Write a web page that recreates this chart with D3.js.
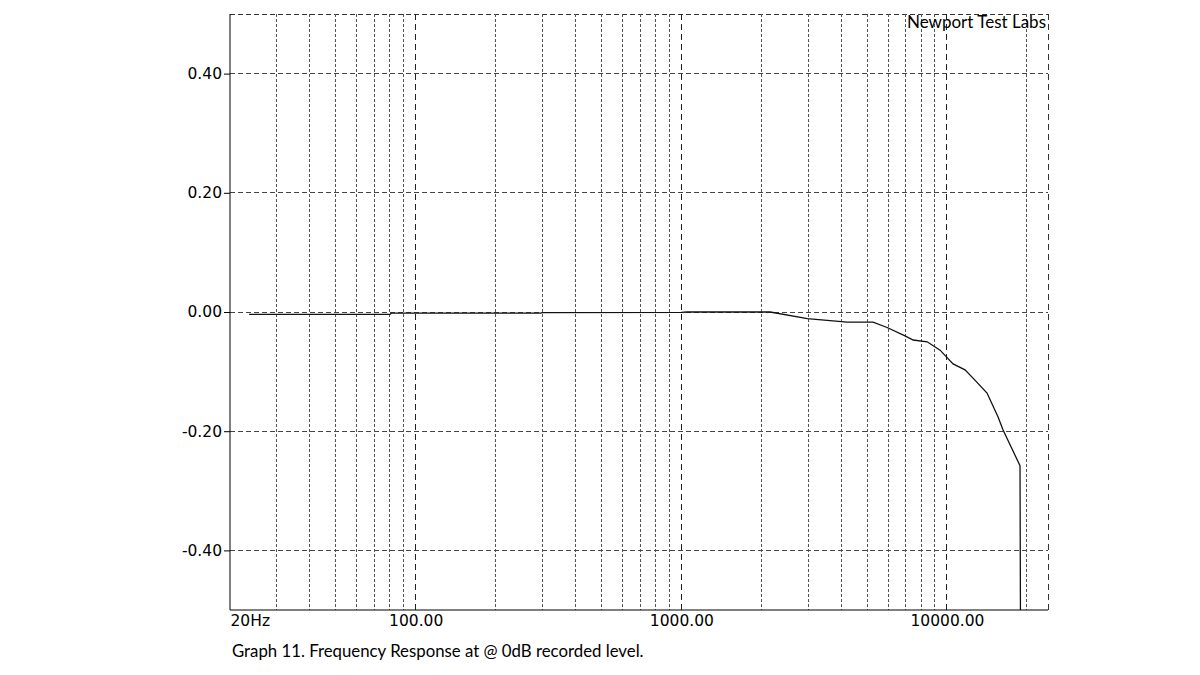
<!DOCTYPE html>
<html><head><meta charset="utf-8">
<script src="https://cdn.jsdelivr.net/npm/d3@7"></script>
<style>body{margin:0;background:#fff}svg{display:block}</style>
</head><body>
<svg id="chart" width="1200" height="675"></svg>
<script>
// ---- data ----
const freqs = [23.6, 80, 81, 295, 300, 1000, 1050, 2160, 2980, 4210, 5270, 5950, 6950, 7460, 8420, 9418, 10540, 11690, 12530, 14150, 15570, 16260, 18830, 18900];
const levels = [-0.004, -0.004, -0.002, -0.002, -0.001, -0.0005, 0, 0, -0.011, -0.017, -0.017, -0.026, -0.040, -0.047, -0.050, -0.064, -0.087, -0.097, -0.111, -0.136, -0.176, -0.198, -0.258, -0.5];
const yTicks = [0.4, 0.2, 0, -0.2, -0.4];
const xLabels = [[20, "20Hz"], [100, "100.00"], [1000, "1000.00"], [10000, "10000.00"]];
const decadeGrid = [100, 1000, 10000];
const minorGrid = [30,40,50,60,70,80,90,200,300,400,500,600,700,800,900,2000,3000,4000,5000,6000,7000,8000,9000,20000];
const title = "Newport Test Labs";
const caption = "Graph 11. Frequency Response at @ 0dB recorded level.";

const L = 230, R = 1048, T = 14, B = 610;
const svg = d3.select("#chart");
const x = d3.scaleLog().domain([20, 24000]).range([L, R]);
const y = d3.scaleLinear().domain([-0.5, 0.5]).range([B, T]);
const axisFont = "'DejaVu Sans', Verdana, sans-serif";
const textFont = "Lato, sans-serif";

// horizontal grid
svg.append("g").selectAll("line").data(yTicks).join("line")
  .attr("x1", L).attr("x2", R).attr("y1", d => y(d)).attr("y2", d => y(d))
  .attr("stroke", "#444").attr("stroke-width", 1).attr("stroke-dasharray", "5,3")
  .attr("shape-rendering", "crispEdges");
// top border
svg.append("line").attr("x1", L).attr("x2", R).attr("y1", T).attr("y2", T)
  .attr("stroke", "#333").attr("stroke-dasharray", "5,3").attr("shape-rendering", "crispEdges");
// minor vertical grid
svg.append("g").selectAll("line").data(minorGrid).join("line")
  .attr("x1", d => x(d)).attr("x2", d => x(d)).attr("y1", T).attr("y2", B)
  .attr("stroke", "#555").attr("stroke-width", 1).attr("stroke-dasharray", "3,2")
  .attr("shape-rendering", "crispEdges");
// decade vertical grid
svg.append("g").selectAll("line").data(decadeGrid).join("line")
  .attr("x1", d => x(d)).attr("x2", d => x(d)).attr("y1", T).attr("y2", B)
  .attr("stroke", "#222").attr("stroke-width", 1).attr("stroke-dasharray", "6,4")
  .attr("shape-rendering", "crispEdges");
// right border
svg.append("line").attr("x1", R).attr("x2", R).attr("y1", T).attr("y2", B)
  .attr("stroke", "#333").attr("stroke-dasharray", "6,4").attr("shape-rendering", "crispEdges");

// curve
const line = d3.line().x((d, i) => x(freqs[i])).y(d => y(d));
svg.append("path").datum(levels).attr("d", line)
  .attr("fill", "none").attr("stroke", "#111").attr("stroke-width", 1.3);

// y axis
const fmt = d => d3.format(".2f")(d).replace("\u2212", "-");
const yAxis = svg.append("g").attr("transform", `translate(${L},0)`)
  .call(d3.axisLeft(y).tickValues(yTicks).tickFormat(fmt).tickSize(6).tickPadding(2));
yAxis.select(".domain").attr("d", `M0,${T}V${B}`).attr("stroke", "#000");
yAxis.selectAll("text").attr("font-family", axisFont).attr("font-size", 15.5).attr("fill", "#000");

// x axis
const xAxis = svg.append("g").attr("transform", `translate(0,${B})`)
  .call(d3.axisBottom(x).tickValues(xLabels.map(d => d[0])).tickSize(0).tickPadding(5)
    .tickFormat(d => xLabels.find(e => e[0] === d)[1]));
xAxis.select(".domain").attr("d", `M${L},0H${R}`).attr("stroke", "#000");
xAxis.selectAll("text").attr("font-family", axisFont).attr("font-size", 15.5).attr("fill", "#000")
  .attr("text-anchor", d => d === 20 ? "start" : "middle");

// texts
svg.append("text").attr("x", 1046).attr("y", 28).attr("text-anchor", "end")
  .attr("font-family", textFont).attr("font-size", 17).attr("fill", "#000").text(title);
svg.append("text").attr("x", 232).attr("y", 657)
  .attr("font-family", textFont).attr("font-size", 16.8).attr("fill", "#000").text(caption);
</script>
</body></html>
